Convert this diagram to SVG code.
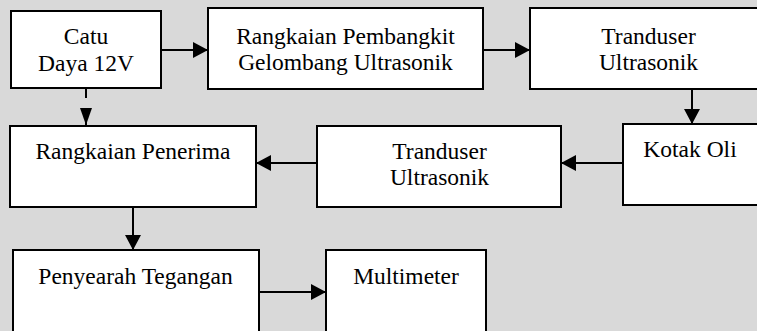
<svg xmlns="http://www.w3.org/2000/svg" width="757" height="331" viewBox="0 0 757 331">
<style>
.box{fill:#ffffff;stroke:#000000;stroke-width:2}
.lbl{font-family:'Liberation Serif','Times New Roman','DejaVu Serif',serif;font-size:23.5px;fill:#000000;text-anchor:middle}
.con{fill:none;stroke:#000000;stroke-width:2}
</style>
<defs>
<marker id="ah" viewBox="0 0 15 16" refX="15" refY="8" markerWidth="15" markerHeight="16" markerUnits="userSpaceOnUse" orient="auto">
<path d="M0,0 L15,8 L0,16 z" fill="#000000"/>
</marker>
<marker id="ahs" viewBox="0 0 17 12" refX="17" refY="6" markerWidth="17" markerHeight="12" markerUnits="userSpaceOnUse" orient="auto">
<path d="M0,0 L17,6 L0,12 z" fill="#000000"/>
</marker>
</defs>
<rect x="0" y="0" width="757" height="331" fill="#d9d9d9"/>
<g id="catu">
<rect class="box" x="11" y="11" width="150" height="77"/>
<text class="lbl" font-family="Liberation Serif, serif" x="86" y="44">Catu</text>
<text class="lbl" font-family="Liberation Serif, serif" x="86" y="71">Daya 12V</text>
</g>
<g id="pembangkit">
<rect class="box" x="208" y="8" width="275" height="81"/>
<text class="lbl" x="345.5" y="43.5">Rangkaian Pembangkit</text>
<text class="lbl" x="345.5" y="70">Gelombang Ultrasonik</text>
</g>
<g id="tranduser1">
<rect class="box" x="530" y="8" width="240" height="81"/>
<text class="lbl" x="648.5" y="43.5">Tranduser</text>
<text class="lbl" x="648.5" y="70">Ultrasonik</text>
</g>
<g id="kotak">
<rect class="box" x="623" y="124" width="150" height="81"/>
<text class="lbl" x="690" y="157">Kotak Oli</text>
</g>
<g id="penerima">
<rect class="box" x="10" y="126" width="246" height="81"/>
<text class="lbl" x="133" y="159">Rangkaian Penerima</text>
</g>
<g id="tranduser2">
<rect class="box" x="317" y="126" width="244" height="81"/>
<text class="lbl" x="439.5" y="158.5">Tranduser</text>
<text class="lbl" x="439.5" y="185">Ultrasonik</text>
</g>
<g id="penyearah">
<rect class="box" x="13" y="250" width="246" height="92"/>
<text class="lbl" x="135.5" y="283.5">Penyearah Tegangan</text>
</g>
<g id="multimeter">
<rect class="box" x="326" y="250" width="160" height="92"/>
<text class="lbl" x="406" y="283.5">Multimeter</text>
</g>
<g id="connectors">
<line class="con" x1="161" y1="50" x2="208" y2="50" marker-end="url(#ah)"/>
<line class="con" x1="86" y1="89" x2="86" y2="98"/>
<line class="con" x1="86" y1="108" x2="86" y2="125" marker-end="url(#ahs)"/>
<line class="con" x1="483" y1="50" x2="530" y2="50" marker-end="url(#ah)"/>
<line class="con" x1="692" y1="89" x2="692" y2="124" marker-end="url(#ah)"/>
<line class="con" x1="623" y1="163" x2="561" y2="163" marker-end="url(#ah)"/>
<line class="con" x1="317" y1="163" x2="256" y2="163" marker-end="url(#ah)"/>
<line class="con" x1="133" y1="207" x2="133" y2="250" marker-end="url(#ah)"/>
<line class="con" x1="259" y1="292" x2="326" y2="292" marker-end="url(#ah)"/>
</g>
</svg>
